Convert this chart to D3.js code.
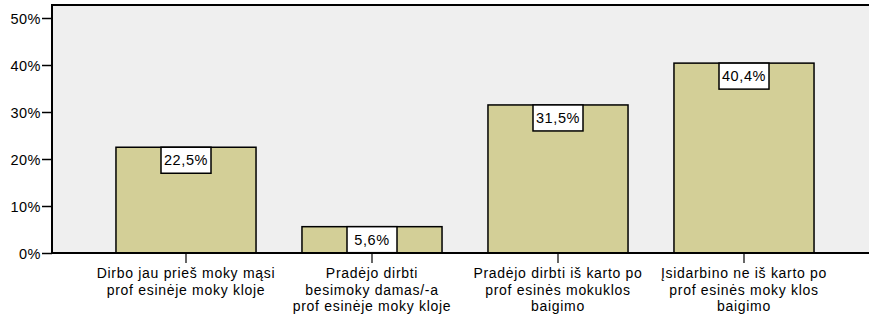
<!DOCTYPE html>
<html lang="lt">
<head>
  <meta charset="UTF-8">
  <title>Įsidarbinimas</title>
  <script src="https://d3js.org/d3.v7.min.js"></script>
  <style>
    body { margin: 0; background: #fff; }
    svg text { font-family: Arial, "Liberation Sans", sans-serif; fill: #000; }
  </style>
</head>
<body>
  <div id="chart"></div>
  <script>
    // duomenys
    const categories = [
      ["Dirbo jau prieš moky mąsi", "prof esinėje moky kloje"],
      ["Pradėjo dirbti", "besimoky damas/-a", "prof esinėje moky kloje"],
      ["Pradėjo dirbti iš karto po", "prof esinės mokuklos", "baigimo"],
      ["Įsidarbino ne iš karto po", "prof esinės moky klos", "baigimo"]
    ];
    const values = [22.5, 5.6, 31.5, 40.4];
    const labels = ["22,5%", "5,6%", "31,5%", "40,4%"];
    const yTicks = [0, 10, 20, 30, 40, 50];

    const width = 869, height = 316;
    const plot = { left: 52, top: 5, right: 875, bottom: 253 };

    const svg = d3.select("#chart").append("svg")
      .attr("width", width)
      .attr("height", height);

    const x = d3.scaleBand()
      .domain(d3.range(values.length))
      .range([93, 837])
      .paddingInner(0.247)
      .paddingOuter(0.1235);

    // 0% ties 253, 50% ties 18
    const y = d3.scaleLinear()
      .domain([0, 50])
      .range([plot.bottom, 18]);

    // fonas
    svg.append("rect")
      .attr("x", plot.left)
      .attr("y", plot.top)
      .attr("width", plot.right - plot.left)
      .attr("height", plot.bottom - plot.top)
      .attr("fill", "#efefef")
      .attr("stroke", "#000")
      .attr("stroke-width", 2);

    // stulpeliai
    svg.selectAll(".bar")
      .data(values)
      .enter()
      .append("rect")
      .attr("class", "bar")
      .attr("x", (d, i) => x(i))
      .attr("y", d => y(d))
      .attr("width", x.bandwidth())
      .attr("height", d => y(0) - y(d))
      .attr("fill", "#d3cf97")
      .attr("stroke", "#000")
      .attr("stroke-width", 1.5);

    // reikšmių etiketės
    const lab = svg.selectAll(".lab")
      .data(values)
      .enter()
      .append("g")
      .attr("class", "lab")
      .attr("transform", (d, i) => `translate(${x(i) + x.bandwidth() / 2},${y(d)})`);

    lab.append("rect")
      .attr("x", -25)
      .attr("y", 0)
      .attr("width", 50)
      .attr("height", 26)
      .attr("fill", "#fff")
      .attr("stroke", "#000")
      .attr("stroke-width", 1.5);

    lab.append("text")
      .attr("y", 18)
      .attr("text-anchor", "middle")
      .style("font-size", "14.5px")
      .style("letter-spacing", "0.6px")
      .text((d, i) => labels[i]);

    // y ašis
    const yAxis = svg.append("g")
      .attr("transform", `translate(${plot.left},0)`)
      .call(d3.axisLeft(y).tickValues(yTicks).tickFormat(d => d + "%").tickSize(10).tickPadding(1));
    yAxis.select(".domain").remove();
    yAxis.selectAll(".tick line").attr("stroke-width", 1.5);
    yAxis.selectAll(".tick text")
      .style("font-size", "14.5px")
      .style("letter-spacing", "0.5px")
      .attr("dy", "0.35em");

    // x ašis
    const xAxis = svg.append("g")
      .attr("transform", `translate(0,${plot.bottom})`)
      .call(d3.axisBottom(x).tickSize(10).tickFormat(""));
    xAxis.select(".domain").attr("stroke-width", 2).attr("d", `M${plot.left},0H${plot.right}`);
    xAxis.selectAll(".tick line").attr("stroke-width", 1.2);

    xAxis.selectAll(".tick").each(function (d) {
      const t = d3.select(this).append("text")
        .attr("text-anchor", "middle")
        .style("font-size", "14px")
        .style("letter-spacing", "0.7px");
      categories[d].forEach((line, k) => {
        t.append("tspan")
          .attr("x", 0)
          .attr("y", 25 + k * 16.5)
          .text(line);
      });
    });
  </script>
</body>
</html>
